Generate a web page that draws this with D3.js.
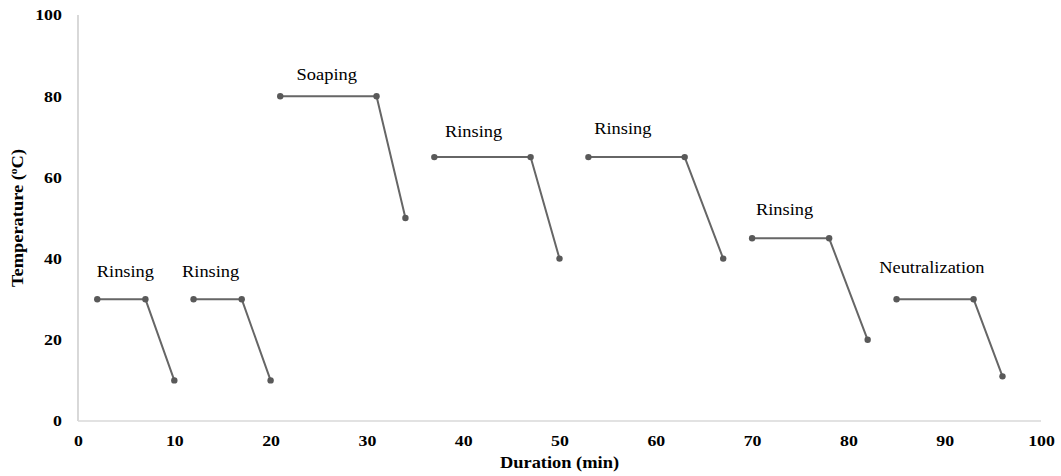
<!DOCTYPE html>
<html>
<head>
<meta charset="utf-8">
<script src="https://cdn.jsdelivr.net/npm/d3@7"></script>
<style>
  body { margin: 0; background: #fff; }
  svg { display: block; }
  svg text { font-family: "Liberation Serif", "DejaVu Serif", serif; }
</style>
</head>
<body>
<svg id="chart" width="1061" height="476"></svg>
<script>
// stage names and the three points of each stage: start, end of hold, drop
const stages = ["Rinsing", "Rinsing", "Soaping", "Rinsing", "Rinsing", "Rinsing", "Neutralization"];
const stageTimes = [[2, 7, 10], [12, 17, 20], [21, 31, 34], [37, 47, 50], [53, 63, 67], [70, 78, 82], [85, 93, 96]];
const stageTemps = [[30, 30, 10], [30, 30, 10], [80, 80, 50], [65, 65, 40], [65, 65, 40], [45, 45, 20], [30, 30, 11]];
// label anchor (x in min, y in °C)
const labelPos = [[1.95, 35.5], [10.8, 35.5], [22.7, 84], [38.1, 70], [53.6, 70.7], [70.4, 50.7], [83.2, 36.5]];
const xTicks = [0, 10, 20, 30, 40, 50, 60, 70, 80, 90, 100];
const yTicks = [0, 20, 40, 60, 80, 100];

const PADDING = { top: 15, right: 20, bottom: 55, left: 78 };
const STRETCH = 1.15; // text in the original is a bit wide
const svg = d3.select("#chart");
const width = +svg.attr("width");
const height = +svg.attr("height");

const xscale = d3.scaleLinear().domain([0, 100]).range([PADDING.left, width - PADDING.right]);
const yscale = d3.scaleLinear().domain([0, 100]).range([height - PADDING.bottom, PADDING.top]);

// axes lines
svg.append("line")
    .attr("x1", xscale(0)).attr("x2", xscale(0))
    .attr("y1", yscale(0)).attr("y2", yscale(100))
    .attr("stroke", "#bfbfbf").attr("stroke-width", 1.2);
svg.append("line")
    .attr("x1", xscale(0)).attr("x2", xscale(100))
    .attr("y1", yscale(0)).attr("y2", yscale(0))
    .attr("stroke", "#d9d9d9").attr("stroke-width", 1.5);

const xaxis = d3.axisBottom(xscale).tickValues(xTicks).tickSize(0).tickPadding(14);
const yaxis = d3.axisLeft(yscale).tickValues(yTicks).tickSize(0).tickPadding(14);

const gx = svg.append("g").attr("transform", `translate(0,${yscale(0)})`).call(xaxis);
const gy = svg.append("g").attr("transform", `translate(${xscale(0)},0)`).call(yaxis);
[gx, gy].forEach(g => {
    g.select(".domain").remove();
    g.selectAll("text")
        .style("font-family", "'Liberation Serif', serif")
        .attr("font-size", 15.5)
        .attr("font-weight", "bold")
        .attr("fill", "#000")
        .attr("transform", `scale(${STRETCH},1)`);
});

// axis titles
svg.append("text")
    .attr("transform", `translate(${(xscale(0) + xscale(100)) / 2},468) scale(${STRETCH},1)`)
    .attr("text-anchor", "middle")
    .attr("font-size", 16).attr("font-weight", "bold")
    .text("Duration (min)");

const ylab = svg.append("text")
    .attr("transform", `translate(23,${yscale(50)}) rotate(-90) scale(${STRETCH},1)`)
    .attr("text-anchor", "middle")
    .attr("font-size", 16).attr("font-weight", "bold");
ylab.append("tspan").text("Temperature (");
ylab.append("tspan").attr("baseline-shift", "super").attr("font-size", 10).text("o");
ylab.append("tspan").text("C)");

// stage lines and points
const line = d3.line()
    .x(d => xscale(d[0]))
    .y(d => yscale(d[1]));

stages.forEach((name, i) => {
    const pts = stageTimes[i].map((t, j) => [t, stageTemps[i][j]]);
    svg.append("path")
        .datum(pts)
        .attr("fill", "none")
        .attr("stroke", "#666666")
        .attr("stroke-width", 2)
        .attr("stroke-linejoin", "round")
        .attr("d", line);
    svg.selectAll(null)
        .data(pts)
        .enter().append("circle")
        .attr("cx", d => xscale(d[0]))
        .attr("cy", d => yscale(d[1]))
        .attr("r", 3.2)
        .attr("fill", "#595959");
    svg.append("text")
        .attr("transform", `translate(${xscale(labelPos[i][0])},${yscale(labelPos[i][1])}) scale(${STRETCH},1)`)
        .attr("font-size", 16)
        .attr("fill", "#000")
        .text(name);
});
</script>
</body>
</html>
